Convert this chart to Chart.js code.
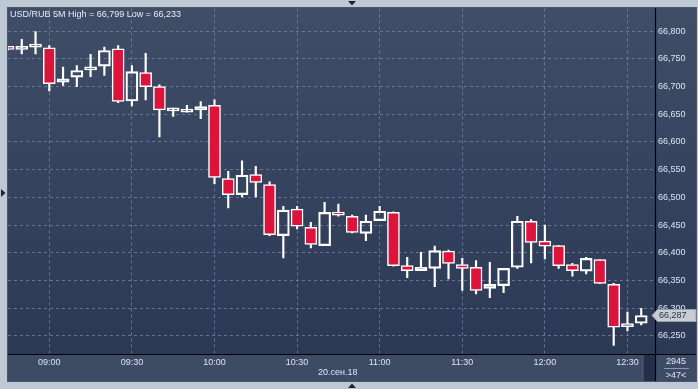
<!DOCTYPE html>
<html><head><meta charset="utf-8">
<script src="https://cdn.jsdelivr.net/npm/chart.js@4"></script>
<style>
html,body{margin:0;padding:0;background:#bfc9d6;overflow:hidden}
#wrap{position:absolute;left:0;top:0;width:698px;height:389px}
</style></head><body>
<div id="wrap"><canvas id="c" width="698" height="389"></canvas></div>
<script>
// ---- data ----
const times = ['08:45','08:50','08:55','09:00','09:05','09:10','09:15','09:20','09:25','09:30','09:35','09:40',
 '09:45','09:50','09:55','10:00','10:05','10:10','10:15','10:20','10:25','10:30','10:35','10:40',
 '10:45','10:50','10:55','11:00','11:05','11:10','11:15','11:20','11:25','11:30','11:35','11:40',
 '11:45','11:50','11:55','12:00','12:05','12:10','12:15','12:20','12:25','12:30','12:35'];
const open  = [66.770,66.767,66.771,66.770,66.708,66.717,66.730,66.737,66.768,66.674,66.725,66.700,
 66.656,66.654,66.658,66.666,66.534,66.505,66.541,66.523,66.431,66.479,66.446,66.413,
 66.471,66.466,66.435,66.458,66.473,66.377,66.368,66.372,66.403,66.379,66.374,66.336,
 66.341,66.374,66.457,66.421,66.413,66.379,66.367,66.388,66.343,66.267,66.273];
const high  = [66.771,66.785,66.799,66.774,66.735,66.738,66.758,66.771,66.774,66.738,66.760,66.703,
 66.661,66.666,66.673,66.676,66.547,66.566,66.556,66.528,66.484,66.484,66.455,66.491,
 66.488,66.468,66.468,66.484,66.474,66.392,66.401,66.412,66.405,66.390,66.386,66.383,
 66.372,66.466,66.460,66.450,66.413,66.381,66.392,66.388,66.345,66.293,66.300];
const low   = [66.766,66.759,66.759,66.692,66.702,66.700,66.718,66.720,66.671,66.665,66.676,66.609,
 66.646,66.654,66.642,66.525,66.481,66.501,66.501,66.431,66.391,66.443,66.409,66.413,
 66.466,66.436,66.422,66.458,66.376,66.355,66.368,66.339,66.353,66.332,66.326,66.319,
 66.328,66.372,66.382,66.389,66.372,66.358,66.362,66.345,66.233,66.259,66.270];
const close = [66.767,66.770,66.774,66.705,66.714,66.729,66.733,66.765,66.673,66.727,66.700,66.658,
 66.658,66.656,66.664,66.536,66.505,66.540,66.527,66.433,66.477,66.448,66.415,66.473,
 66.468,66.437,66.457,66.475,66.377,66.368,66.374,66.404,66.381,66.372,66.332,66.343,
 66.372,66.457,66.419,66.412,66.377,66.368,66.390,66.345,66.266,66.272,66.287];
const yTicks = [66.25,66.30,66.35,66.40,66.45,66.50,66.55,66.60,66.65,66.70,66.75,66.80];
const title = 'USD/RUB 5M High = 66,799 Low = 66,233';
const dateLabel = '20.сен.18';
const cornerTop = '2945';
const cornerBottom = '>47<';

// ---- derived for the library ----
const labels = [...times, ''];
const bodies = open.map((o,i)=>[o, close[i]]);
const upper = open.map((o,i)=>[Math.max(o,close[i]), high[i]]);
const lower = open.map((o,i)=>[low[i], Math.min(o,close[i])]);
const RED = '#dc143c';
const bodyFill = open.map((o,i)=> close[i] < o ? RED : 'rgba(0,0,0,0)');
const fmt = v => v.toFixed(3).replace('.', ',');
const FONT = '"Liberation Sans", Arial, sans-serif';
const TXT = '#dbe5f4';
const GRID = 'rgba(118,136,168,0.75)';

Chart.defaults.font.family = FONT;
Chart.defaults.font.size = 9;

const bgPlugin = {
  id:'bg',
  beforeDraw(chart){
    const c = chart.ctx, a = chart.chartArea;
    c.save();
    c.fillStyle = '#bfc9d6'; c.fillRect(0,0,698,389);
    const g = c.createLinearGradient(0,8,0,354);
    g.addColorStop(0,'#3f4d67'); g.addColorStop(1,'#2c3955');
    c.fillStyle = g; c.fillRect(8,8,688,346);
    c.fillStyle = '#3d4b65'; c.fillRect(8,354,688,27);
    // scroll block
    c.fillStyle = '#24304a'; c.fillRect(642,355,13,26);
    c.fillStyle = '#4a5872'; c.fillRect(642,355,1.5,26);
    // panel outline
    c.strokeStyle = '#4c5668'; c.lineWidth = 1;
    c.strokeRect(7.5,7.5,689,374);
    c.restore();
  },
  afterDraw(chart){
    const c = chart.ctx, a = chart.chartArea, y = chart.scales.y;
    c.save();
    // separators
    c.strokeStyle = '#000'; c.lineWidth = 1.2;
    c.beginPath(); c.moveTo(655.5,8); c.lineTo(655.5,381); c.stroke();
    c.beginPath(); c.moveTo(8,354.5); c.lineTo(696,354.5); c.stroke();
    // title
    c.font = '9px ' + FONT; c.fillStyle = '#e6edf8';
    c.textBaseline = 'middle'; c.textAlign = 'left';
    c.fillText(title, 10, 15);
    // date
    c.fillStyle = TXT; c.fillText(dateLabel, 318, 373);
    // corner
    c.textAlign = 'center';
    c.fillText(cornerTop, 676, 362);
    c.fillText(cornerBottom, 676, 375.5);
    c.strokeStyle = '#8a98b0'; c.lineWidth = 1;
    c.beginPath(); c.moveTo(664,368.5); c.lineTo(689,368.5); c.stroke();
    // price tag
    const last = close[close.length-1];
    const py = Math.round(y.getPixelForValue(last)) + 0.5;
    c.fillStyle = '#c8ccd3'; c.strokeStyle = '#9aa0aa';
    c.beginPath();
    c.moveTo(652, py); c.lineTo(657.5, py-6); c.lineTo(696, py-6);
    c.lineTo(696, py+6); c.lineTo(657.5, py+6); c.closePath();
    c.fill(); c.stroke();
    c.fillStyle = '#2d3442'; c.textAlign = 'left';
    c.fillText(fmt(last), 659, py+0.5);
    // frame triangles
    c.fillStyle = '#1e2530';
    c.beginPath(); c.moveTo(348,1); c.lineTo(356,1); c.lineTo(352,5.5); c.closePath(); c.fill();
    c.beginPath(); c.moveTo(348,388); c.lineTo(356,388); c.lineTo(352,383.5); c.closePath(); c.fill();
    c.beginPath(); c.moveTo(1,189); c.lineTo(1,197); c.lineTo(5.5,193); c.closePath(); c.fill();
    c.restore();
  }
};

new Chart(document.getElementById('c'), {
  type:'bar',
  data:{
    labels,
    datasets:[
      {data:bodies, backgroundColor:bodyFill, borderColor:'#ffffff', borderWidth:1.5,
       borderSkipped:false, barThickness:12, minBarLength:3, grouped:false},
      {data:upper, backgroundColor:'#ffffff', borderWidth:0, barThickness:1.5, grouped:false},
      {data:lower, backgroundColor:'#ffffff', borderWidth:0, barThickness:1.5, grouped:false}
    ]
  },
  options:{
    responsive:false, animation:false, events:[],
    layout:{padding:{left:8, top:8, right:2, bottom:8}},
    plugins:{legend:{display:false}, tooltip:{enabled:false}, title:{display:false}},
    scales:{
      x:{
        type:'category', offset:false,
        grid:{offset:false, drawTicks:false,
          color:ctx => { const t = labels[ctx.index]; return t && (t.endsWith(':00')||t.endsWith(':30')) ? GRID : 'rgba(0,0,0,0)'; }},
        border:{display:false, dash:[3,3]},
        ticks:{autoSkip:false, maxRotation:0, padding:3, color:TXT, font:{size:9},
          callback:(v,i)=>{ const t = labels[i]; return t && (t.endsWith(':00')||t.endsWith(':30')) ? t : ''; }},
        afterFit:s=>{ s.height = 27; }
      },
      y:{
        position:'right', min:66.2175, max:66.841,
        grid:{drawTicks:false, color:GRID},
        border:{display:false, dash:[3,3]},
        afterBuildTicks:s=>{ s.ticks = yTicks.map(v=>({value:v})); },
        ticks:{padding:3, color:TXT, font:{size:9}, callback:v=>fmt(v)},
        afterFit:s=>{ s.width = 41; }
      }
    }
  },
  plugins:[bgPlugin]
});
</script>
</body></html>
